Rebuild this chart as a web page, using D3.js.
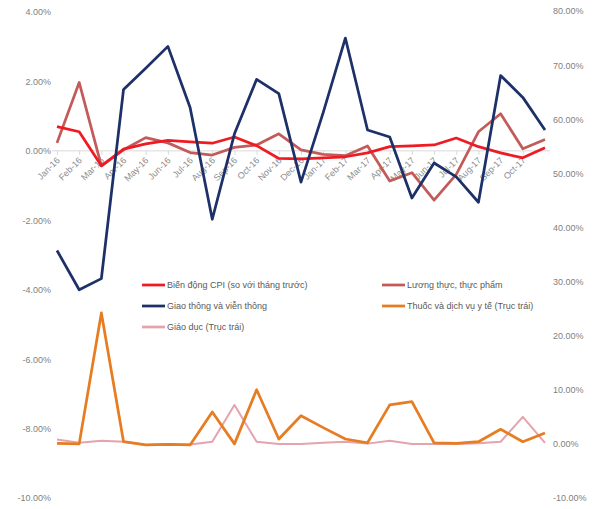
<!DOCTYPE html>
<html>
<head>
<meta charset="utf-8">
<script src="https://cdn.jsdelivr.net/npm/d3@7"></script>
<style>
  body { margin: 0; background: #fff; }
  text { font-family: "Liberation Sans", Arial, sans-serif; }
</style>
</head>
<body>
<svg id="chart" width="603" height="509"></svg>
<script>
// months on the category axis (last one has no label in the original)
const months = ['Jan-16', 'Feb-16', 'Mar-16', 'Apr-16', 'May-16', 'Jun-16', 'Jul-16', 'Aug-16',
    'Sep-16', 'Oct-16', 'Nov-16', 'Dec-16', 'Jan-17', 'Feb-17', 'Mar-17', 'Apr-17', 'May-17',
    'Jun-17', 'Jul-17', 'Aug-17', 'Sep-17', 'Oct-17', 'Nov-17'];
const monthLabels = months.slice(0, 22);

// left axis series (%)
const cpi = [0.70, 0.55, -0.43, 0.05, 0.20, 0.30, 0.26, 0.22, 0.40, 0.15, -0.22, -0.23,
    -0.20, -0.17, -0.06, 0.12, 0.14, 0.17, 0.37, 0.12, -0.06, -0.20, 0.09];
const food = [0.23, 1.97, -0.43, 0.03, 0.38, 0.23, -0.05, -0.12, 0.10, 0.17, 0.49, 0.03,
    -0.10, -0.14, 0.14, -0.87, -0.63, -1.42, -0.68, 0.55, 1.07, 0.06, 0.33];
const transport = [-2.87, -4.00, -3.68, 1.77, 2.38, 3.01, 1.25, -1.97, 0.49, 2.06, 1.65, -0.90,
    1.10, 3.25, 0.60, 0.40, -1.36, -0.35, -0.75, -1.48, 2.17, 1.54, 0.60];

// right axis series (%)
const medical = [0.1, 0.0, 24.2, 0.4, -0.2, -0.1, -0.2, 5.9, 0.0, 10.0, 0.9, 5.2,
    3.0, 0.9, 0.2, 7.2, 7.8, 0.2, 0.1, 0.4, 2.7, 0.4, 2.0];
const education = [0.8, 0.2, 0.6, 0.4, -0.2, 0.0, -0.1, 0.4, 7.2, 0.4, 0.0, 0.0,
    0.2, 0.4, 0.05, 0.6, 0.0, 0.0, 0.0, 0.1, 0.4, 5.0, 0.2];

const leftTicks = [-10, -8, -6, -4, -2, 0, 2, 4];
const rightTicks = [-10, 0, 10, 20, 30, 40, 50, 60, 70, 80];

const colors = {
    cpi: '#ef1b23',
    food: '#c25b59',
    transport: '#1d3068',
    medical: '#e67d22',
    education: '#e4a3ad'
};

const svg = d3.select('#chart');

const x = d3.scalePoint().domain(months).range([57, 545]);
const yLeft = d3.scaleLinear().domain([-10, 4]).range([498, 12]);
const yRight = d3.scaleLinear().domain([-10, 80]).range([498, 11]);

// axes
const fmt = d => d.toFixed(2) + '%';
const leftAxis = svg.append('g')
    .attr('transform', 'translate(51,0)')
    .call(d3.axisLeft(yLeft).tickValues(leftTicks).tickFormat(fmt).tickSize(0).tickPadding(0));
const rightAxis = svg.append('g')
    .attr('transform', 'translate(553,0)')
    .call(d3.axisRight(yRight).tickValues(rightTicks).tickFormat(fmt).tickSize(0).tickPadding(0));
[leftAxis, rightAxis].forEach(g => {
    g.select('.domain').remove();
    g.selectAll('text').attr('fill', '#7f7f7f').style('font-size', '9px');
});

const xAxis = svg.append('g')
    .attr('transform', `translate(0,${yLeft(0)})`)
    .call(d3.axisBottom(x).tickValues(monthLabels).tickSize(4).tickSizeOuter(0));
xAxis.select('.domain').remove();
xAxis.insert('line', ':first-child')
    .attr('x1', 52).attr('x2', 550)
    .attr('stroke', '#d9d9d9');
xAxis.selectAll('.tick line').attr('stroke', '#d9d9d9');
xAxis.selectAll('text')
    .attr('fill', '#8c8c8c')
    .style('font-size', '9px')
    .attr('text-anchor', 'end')
    .attr('x', -5)
    .attr('y', 6)
    .attr('dy', '0.35em')
    .attr('transform', 'rotate(-45)');

// lines
function drawLine(values, yScale, color, width) {
    const line = d3.line()
        .x((d, i) => x(months[i]))
        .y(d => yScale(d));
    svg.append('path')
        .datum(values)
        .attr('d', line)
        .attr('fill', 'none')
        .attr('stroke', color)
        .attr('stroke-width', width)
        .attr('stroke-linejoin', 'round');
}

drawLine(education, yRight, colors.education, 2);
drawLine(medical, yRight, colors.medical, 2.75);
drawLine(food, yLeft, colors.food, 2.75);
drawLine(cpi, yLeft, colors.cpi, 2.75);
drawLine(transport, yLeft, colors.transport, 2.75);

// legend
const legendItems = [
    {label: 'Biến động CPI (so với tháng trước)', color: colors.cpi, x: 142, y: 285},
    {label: 'Lương thực, thực phẩm', color: colors.food, x: 382, y: 285},
    {label: 'Giao thông và viễn thông', color: colors.transport, x: 142, y: 306},
    {label: 'Thuốc và dịch vụ y tế (Trục trái)', color: colors.medical, x: 382, y: 306},
    {label: 'Giáo dục (Trục trái)', color: colors.education, x: 142, y: 327}
];
const legend = svg.append('g');
const item = legend.selectAll('g').data(legendItems).enter().append('g')
    .attr('transform', d => `translate(${d.x},${d.y})`);
item.append('line')
    .attr('x1', 0).attr('x2', 23)
    .attr('stroke', d => d.color)
    .attr('stroke-width', 2.75);
item.append('text')
    .attr('x', 25)
    .attr('dy', '0.35em')
    .attr('fill', '#595959')
    .style('font-size', '9px')
    .text(d => d.label);
</script>
</body>
</html>
